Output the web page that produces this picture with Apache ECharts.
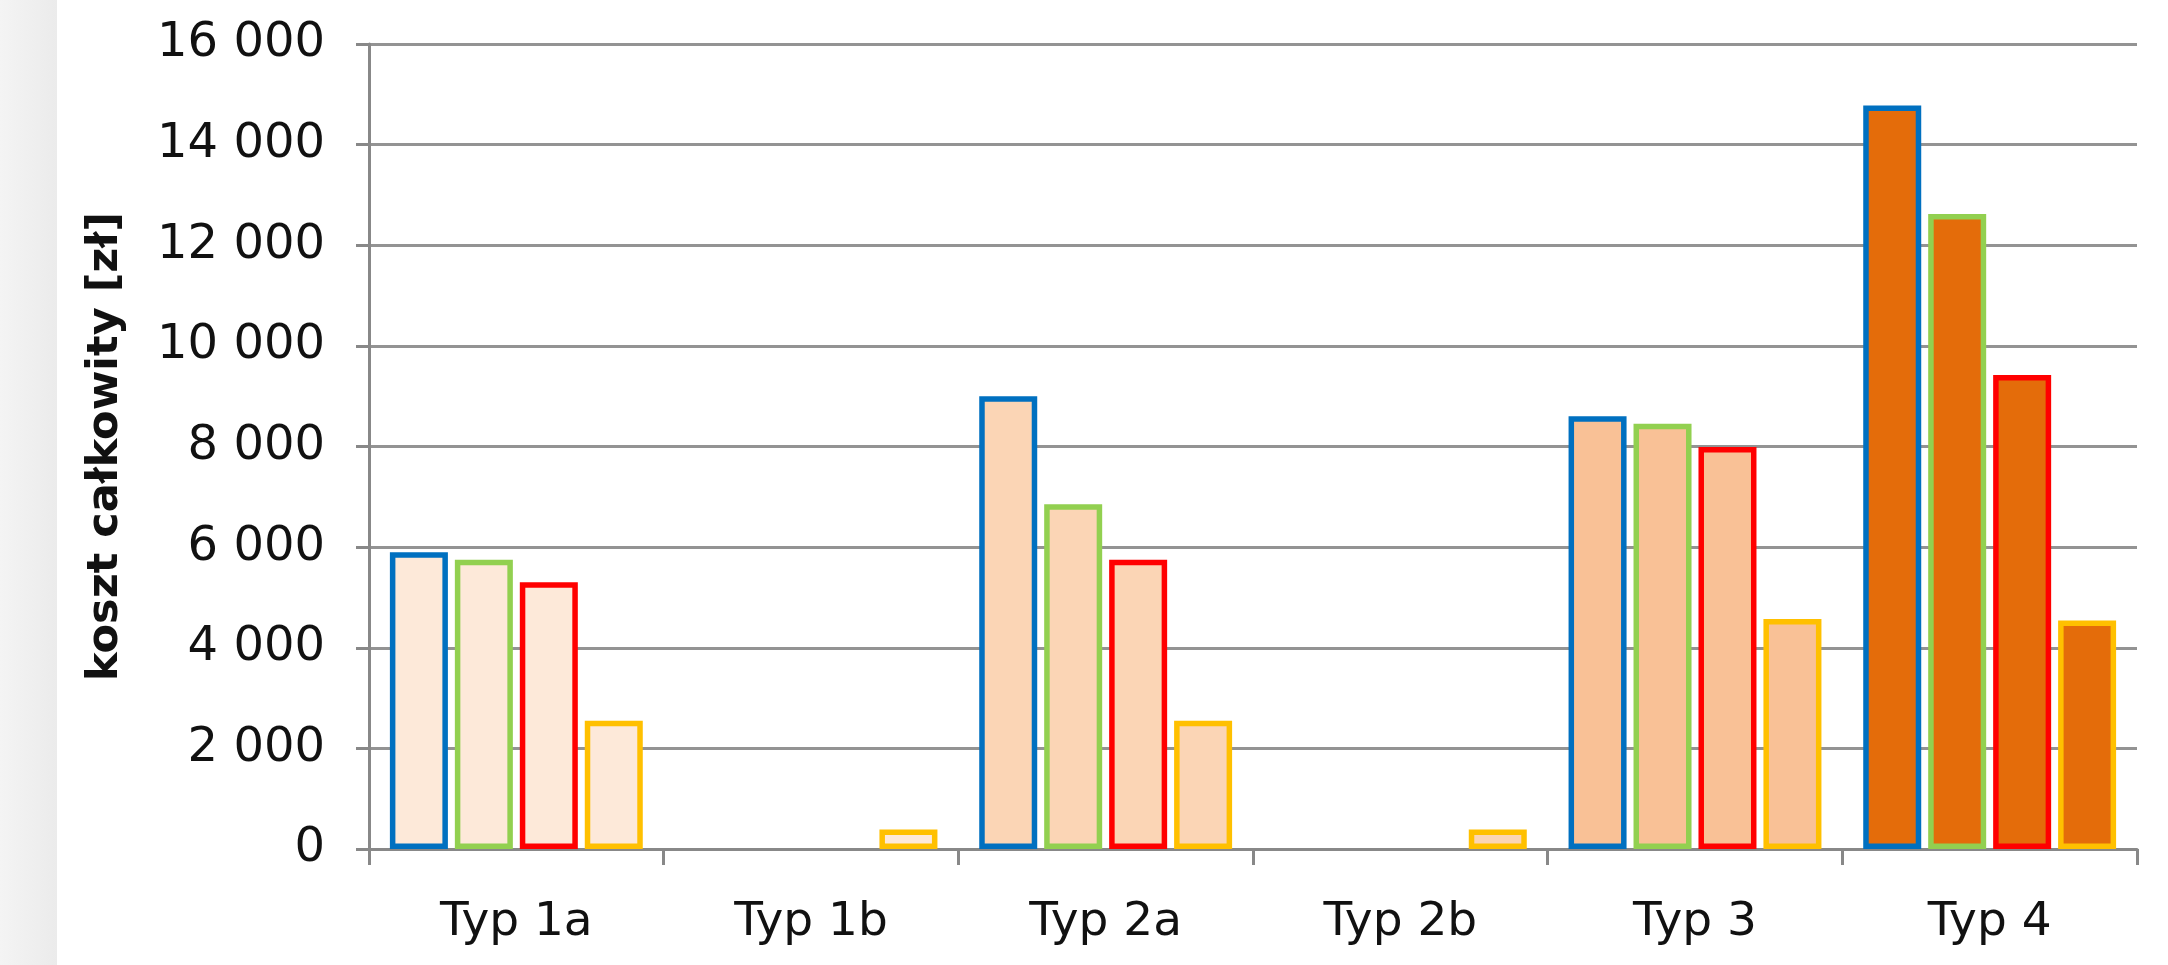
<!DOCTYPE html>
<html>
<head>
<meta charset="utf-8">
<script src="https://cdn.jsdelivr.net/npm/echarts@6/dist/echarts.min.js"></script>
<style>
html,body{margin:0;padding:0;background:#fff;}
#c{width:2168px;height:965px;}
</style>
</head>
<body>
<div id="c"></div>
<script>
const categories = ['Typ 1a', 'Typ 1b', 'Typ 2a', 'Typ 2b', 'Typ 3', 'Typ 4'];
const seriesNames = ['Seria 1', 'Seria 2', 'Seria 3', 'Seria 4'];
const valuesBlue   = [5900, null, 9000, null, 8600, 14780];
const valuesGreen  = [5750, null, 6850, null, 8450, 12620];
const valuesRed    = [5300, null, 5750, null, 7990, 9420];
const valuesYellow = [2550, 390, 2550, 390, 4570, 4540];
const yTicks = [0, 2000, 4000, 6000, 8000, 10000, 12000, 14000, 16000];

// styles (kept separate from data)
const borderColors = ['#0070c0', '#92d050', '#ff0000', '#ffc000'];
const categoryFills = ['#fde9d9', '#fde9d9', '#fbd5b5', '#fbd5b5', '#f9c196', '#e46c0a'];

const allValues = [valuesBlue, valuesGreen, valuesRed, valuesYellow];

const chart = echarts.init(document.getElementById('c'), null, {renderer: 'canvas'});

function fmt(v) {
  const s = String(v);
  return s.length > 3 ? s.slice(0, s.length - 3) + ' ' + s.slice(s.length - 3) : s;
}

const series = allValues.map((vals, si) => ({
  name: seriesNames[si],
  type: 'bar',
  barWidth: 58,
  barGap: '12%',
  data: vals.map((v, ci) => ({
    value: v,
    itemStyle: {
      color: categoryFills[ci],
      borderColor: borderColors[si],
      borderWidth: 5.5
    }
  }))
}));

chart.setOption({
  animation: false,
  backgroundColor: '#ffffff',
  graphic: [{
    type: 'rect',
    left: 0, top: 0,
    shape: {width: 57, height: 965},
    style: {
      fill: new echarts.graphic.LinearGradient(0, 0, 1, 0, [
        {offset: 0, color: '#f4f4f4'},
        {offset: 1, color: '#ebebeb'}
      ])
    },
    z: -10
  }],
  grid: {left: 369, right: 31, top: 44, bottom: 116, containLabel: false},
  xAxis: {
    type: 'category',
    data: categories,
    axisLine: {show: true, lineStyle: {color: '#888888', width: 3}},
    axisTick: {show: true, length: 16, lineStyle: {color: '#888888', width: 3}},
    axisLabel: {
      margin: 50,
      color: '#111111',
      fontFamily: 'DejaVu Sans',
      fontSize: 47
    }
  },
  yAxis: {
    type: 'value',
    min: 0, max: 16000, interval: 2000,
    name: 'koszt całkowity [zł]',
    nameLocation: 'middle',
    nameGap: 242,
    nameTextStyle: {
      color: '#111',
      fontFamily: 'DejaVu Sans',
      fontWeight: 'bold',
      fontSize: 43
    },
    axisLine: {show: true, lineStyle: {color: '#888888', width: 3}},
    axisTick: {show: true, length: 13, lineStyle: {color: '#888888', width: 3}},
    splitLine: {show: true, lineStyle: {color: '#939393', width: 3}},
    axisLabel: {
      margin: 44,
      color: '#111111',
      fontFamily: 'DejaVu Sans',
      fontSize: 48,
      formatter: v => yTicks.includes(v) ? fmt(v) : ''
    }
  },
  series: series
});
</script>
</body>
</html>
